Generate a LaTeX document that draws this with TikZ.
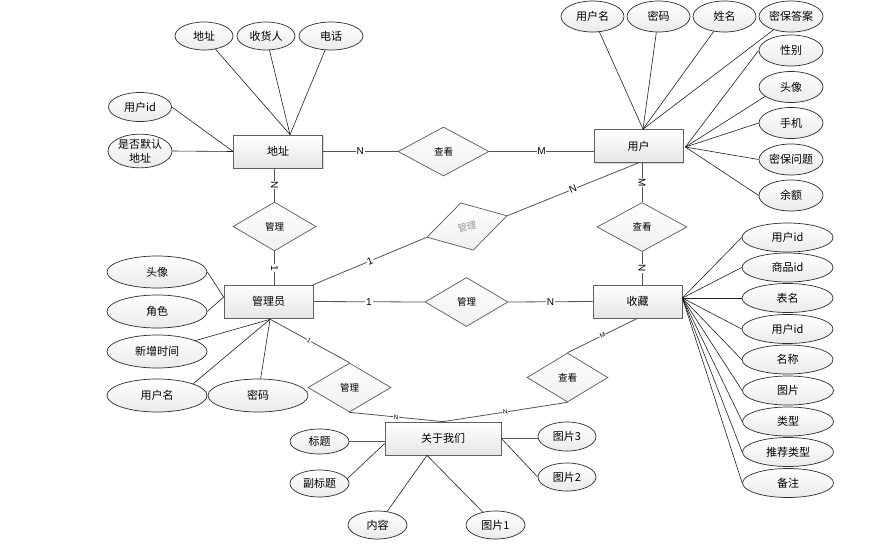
\documentclass[tikz,border=0pt]{standalone}
\usepackage{fontspec}
\setmainfont{Liberation Sans}
\newfontfamily\cjk{Noto Sans CJK SC}
\usetikzlibrary{shapes.geometric,shadows,calc}
\begin{document}
\begin{tikzpicture}[x=1pt,y=-1pt,
  every node/.style={font=\cjk\fontsize{11}{14}\selectfont},
  ent/.style={draw=gray!75!black, rectangle, inner sep=0pt, minimum width=89pt, minimum height=33pt,
    top color=white, bottom color=gray!20, line width=0.7pt,
    drop shadow={shadow xshift=1.3pt, shadow yshift=-1.3pt, opacity=0.3, fill=gray}},
  attr/.style={draw=gray!35!black, ellipse, inner sep=0pt, minimum width=63pt, minimum height=30pt,
    top color=white, bottom color=gray!16, line width=0.7pt},
  rel/.style={draw=gray!70!black, diamond, inner sep=0pt, minimum width=83pt, minimum height=49pt,
    top color=white, bottom color=gray!12, line width=0.7pt, font=\cjk\fontsize{9.5}{11}\selectfont},
  ln/.style={draw=gray!25!black, line width=0.6pt},
  rl/.style={draw=gray!65!black, line width=0.8pt},
  card/.style={fill=white, inner sep=0.8pt, font=\fontsize{10}{11}\selectfont},
  cards/.style={fill=white, inner sep=0.5pt, font=\fontsize{6.5}{7}\selectfont},
]
\fill[white] (0,0) rectangle (890,546);
\useasboundingbox (0,0) rectangle (890,546);

% entities
\node[ent] (addr) at (278,151.5) {地址};
\node[ent] (user) at (638.5,146) {用户};
\node[ent] (admin) at (268.5,301.5) {管理员};
\node[ent] (fav) at (637.5,301.5) {收藏};
\node[ent, minimum width=116pt] (about) at (443,438.5) {关于我们};

% relationships
\node[rel, minimum width=91pt] (r1) at (443.5,151.5) {查看};
\node[rel] (r2) at (274.5,226.5) {管理};
\node[rel, rotate=15, text=gray!80] (r3) at (467,226.5) {管理};
\node[rel] (r4) at (466.5,302) {管理};
\node[rel, minimum width=90pt] (r5) at (642,227) {查看};
\node[rel, minimum width=81pt] (r6) at (567.5,377.5) {查看};
\node[rel] (r7) at (349.5,387.5) {管理};

% relationship connectors
\draw[rl] (addr.east) -- node[card]{N} (r1.west);
\draw[rl] (r1.east) -- node[card]{M} (r1.east -| user.west);
\draw[rl] (r2.north |- addr.south) -- node[card,sloped]{N} (r2.north);
\draw[rl] (r2.south) -- node[card,sloped]{1} (r2.south |- admin.north);
\draw[rl] (admin.north east) -- node[card,sloped]{1} (r3.west);
\draw[rl] (r3.east) -- node[card,sloped]{N} (user.south);
\draw[rl] (admin.east) -- node[card]{1} (r4.west);
\draw[rl] (r4.east) -- node[card]{N} (fav.west);
\draw[rl] (r5.north |- user.south) -- node[card,sloped]{M} (r5.north);
\draw[rl] (r5.south) -- node[card,sloped]{N} (r5.south |- fav.north);
\draw[rl] (fav.south) -- node[cards,sloped]{M} (r6.north);
\draw[rl] (r6.south) -- node[cards,sloped]{N} (about.north);
\draw[rl] (admin.south) -- node[cards,sloped]{1} (r7.north);
\draw[rl] (r7.south) -- node[cards,sloped]{N} (about.north);

% address attributes
\node[attr, minimum width=58pt, minimum height=28pt] (a1) at (204,36) {地址};
\node[attr, minimum width=58pt, minimum height=28pt] (a2) at (266,36) {收货人};
\node[attr, minimum width=64pt, minimum height=28pt] (a3) at (331,36) {电话};
\node[attr, minimum height=29pt] (a4) at (140,107) {用户id};
\node[attr, minimum width=64pt, minimum height=32pt, align=center, font=\cjk\fontsize{11}{14}\selectfont] (a5) at (140,151) {是否默认\\地址};
\coordinate (addrTop) at ($(addr.north)+(12,0)$);
\draw[ln] (a1) -- (addrTop);
\draw[ln] (a2) -- (addrTop);
\draw[ln] (a3) -- (addrTop);
\draw[ln] (a4.east) -- (addr.west);
\draw[ln] (a5.east) -- (addr.west);

% user attributes
\node[attr, minimum height=31pt] (u1) at (592.5,16.5) {用户名};
\node[attr, minimum height=31pt] (u2) at (658.5,16.5) {密码};
\node[attr, minimum height=31pt] (u3) at (724.5,16.5) {姓名};
\node[attr, minimum width=64pt, minimum height=31pt] (u4) at (791,16.5) {密保答案};
\node[attr, minimum width=64pt, minimum height=31pt] (u5) at (791,50.5) {性别};
\node[attr, minimum width=64pt, minimum height=31pt] (u6) at (791,87) {头像};
\node[attr, minimum width=64pt, minimum height=31pt] (u7) at (791,123) {手机};
\node[attr, minimum width=64pt, minimum height=31pt] (u8) at (791,159.5) {密保问题};
\node[attr, minimum width=64pt, minimum height=31pt] (u9) at (791,195.5) {余额};
\coordinate (userTop) at ($(user.north)+(4.5,0)$);
\coordinate (userRight) at ($(user.east)+(2,1)$);
\draw[ln] (u1) -- (userTop);
\draw[ln] (u2) -- (userTop);
\draw[ln] (u3) -- (userTop);
\draw[ln] (u4) -- (userTop);
\draw[ln] (u5.west) -- (userRight);
\draw[ln] (u6.200) -- (userRight);
\draw[ln] (u7.west) -- (userRight);
\draw[ln] (u8.west) -- (userRight);
\draw[ln] (u9.west) -- (userRight);

% favourite attributes
\node[attr, minimum width=91pt, minimum height=29pt] (f1) at (787.5,237.5) {用户id};
\node[attr, minimum width=91pt, minimum height=29pt] (f2) at (787.5,267.5) {商品id};
\node[attr, minimum width=91pt, minimum height=29pt] (f3) at (787.5,298) {表名};
\node[attr, minimum width=91pt, minimum height=29pt] (f4) at (787.5,329) {用户id};
\node[attr, minimum width=91pt, minimum height=29pt] (f5) at (787.5,359.5) {名称};
\node[attr, minimum width=91pt, minimum height=29pt] (f6) at (788,390.5) {图片};
\node[attr, minimum width=91pt, minimum height=29pt] (f7) at (788,421.5) {类型};
\node[attr, minimum width=91pt, minimum height=29pt] (f8) at (788,452) {推荐类型};
\node[attr, minimum width=91pt, minimum height=29pt] (f9) at (788,483) {备注};
\coordinate (favRight) at ($(fav.east)+(0,-3.5)$);
\foreach \i in {1,...,9} {\draw[ln] (f\i.west) -- (favRight);}

% admin attributes
\node[attr, minimum width=100pt, minimum height=32pt] (m1) at (157,272) {头像};
\node[attr, minimum width=100pt, minimum height=33pt] (m2) at (157,311.5) {角色};
\node[attr, minimum width=100pt, minimum height=33pt] (m3) at (157,351.5) {新增时间};
\node[attr, minimum width=100pt, minimum height=33pt] (m4) at (157,395.5) {用户名};
\node[attr, minimum width=100pt, minimum height=33pt] (m5) at (258,395.5) {密码};
\coordinate (adminL) at ($(admin.west)+(0,-4.5)$);
\coordinate (adminB) at ($(admin.south)+(1.5,1)$);
\draw[ln] (m1.east) -- (adminL);
\draw[ln] (m2.east) -- (adminL);
\draw[ln] (m3) -- (adminB);
\draw[ln] (m4.18) -- (adminB);
\draw[ln] (m5) -- (adminB);

% about attributes
\node[attr, minimum width=59pt, minimum height=25pt] (b1) at (319.5,441.5) {标题};
\node[attr, minimum width=59pt, minimum height=27pt] (b2) at (319.5,483.5) {副标题};
\node[attr, minimum width=59pt, minimum height=28pt] (b3) at (377.5,525) {内容};
\node[attr, minimum width=59pt, minimum height=28pt] (b4) at (495.5,525) {图片1};
\node[attr, minimum width=58pt, minimum height=29pt] (b5) at (567,436.5) {图片3};
\node[attr, minimum width=58pt, minimum height=28pt] (b6) at (567,477) {图片2};
\coordinate (aboutL) at ($(about.west)+(0,5)$);
\coordinate (aboutB) at ($(about.south)+(-16,0)$);
\draw[rl] (b1.east) -- (b1.east -| about.west);
\draw[ln] (b2.10) -- (aboutL);
\draw[ln] (b3) -- (aboutB);
\draw[ln] (b4) -- (aboutB);
\draw[rl] (about.east) -- (about.east -| b5.west);
\draw[ln] (b6.west) -- (about.east);
\end{tikzpicture}
\end{document}
